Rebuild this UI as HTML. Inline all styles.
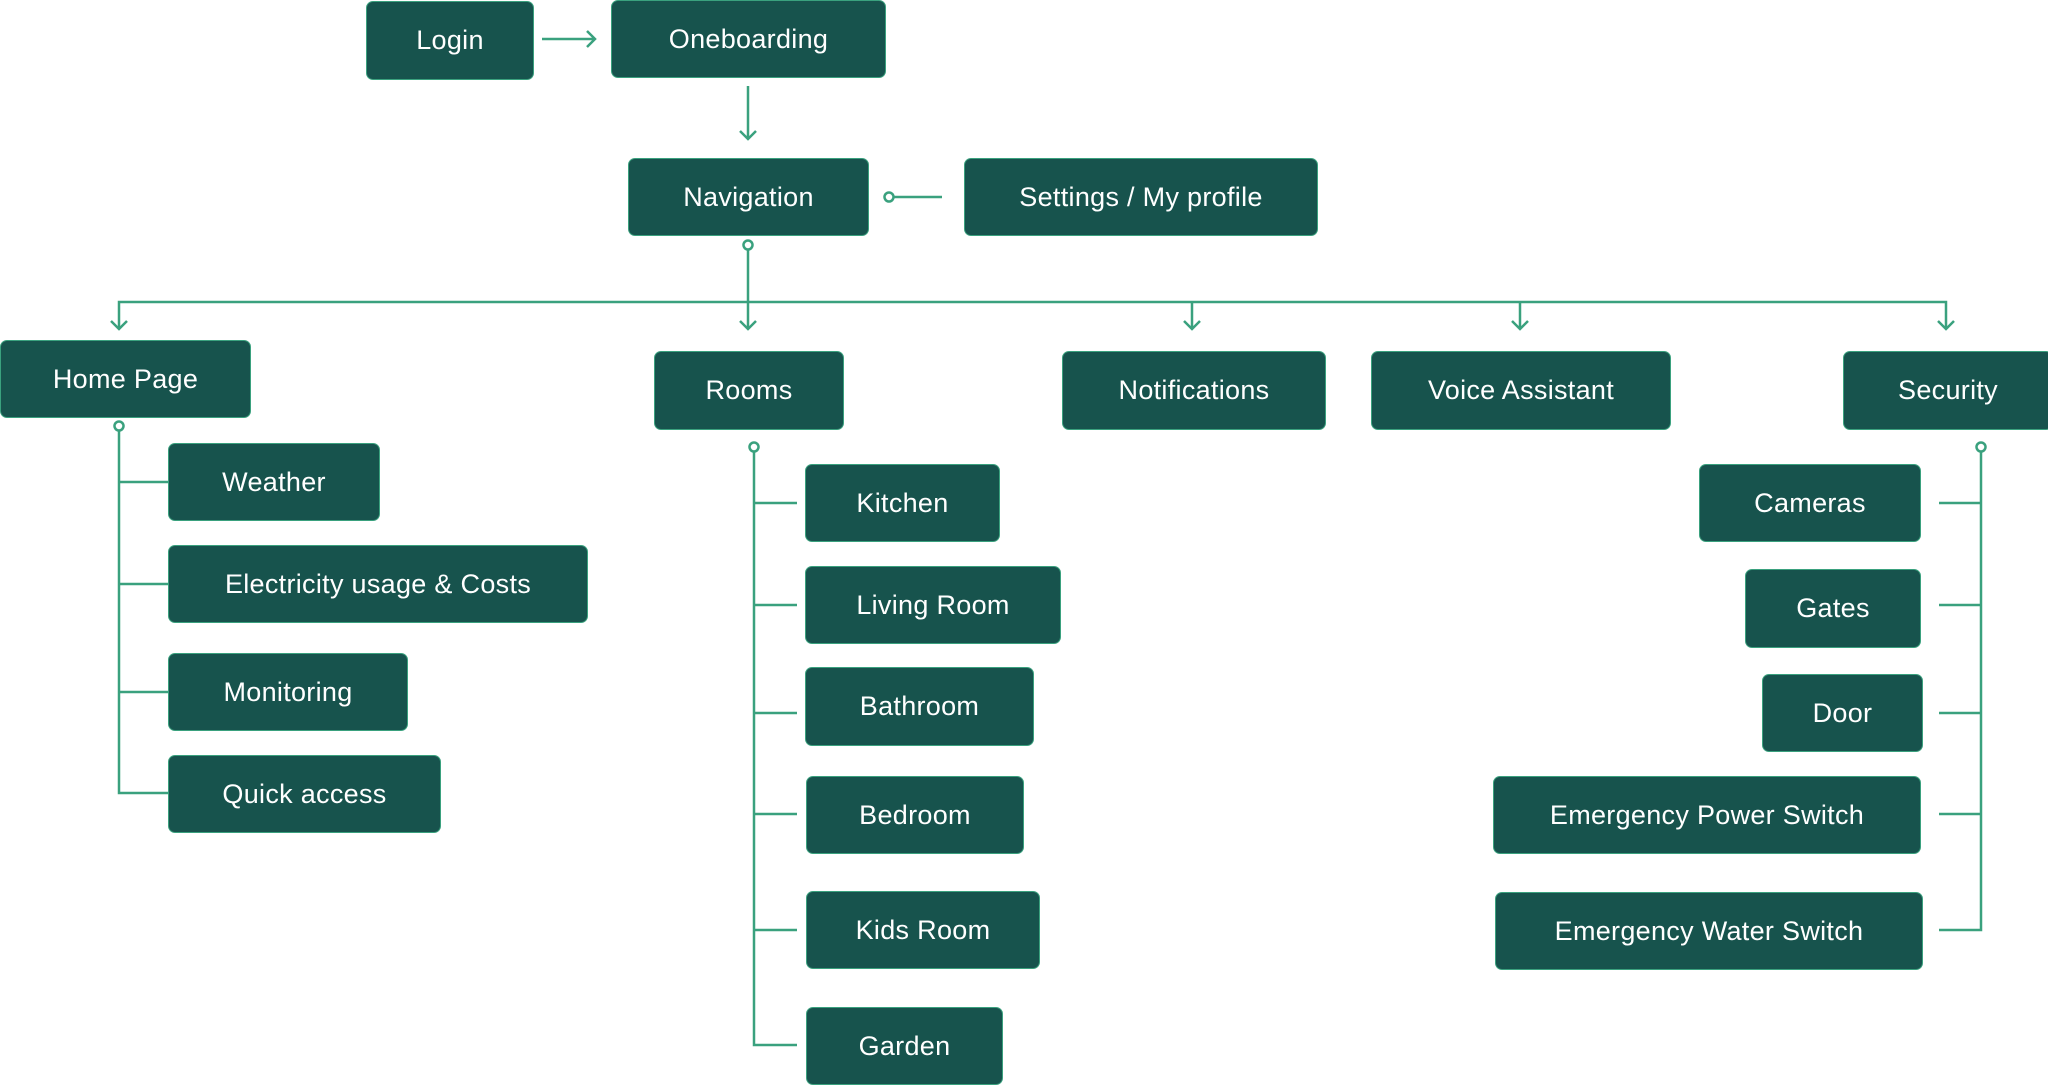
<!DOCTYPE html>
<html><head><meta charset="utf-8"><style>
body{margin:0;width:2048px;height:1085px;background:#fff;position:relative;overflow:hidden;font-family:"Liberation Sans",sans-serif}
.b{position:absolute;background:#17534d;border:1.5px solid #3aa17e;border-radius:7px;box-sizing:border-box;color:#fff;font-size:27px;display:flex;align-items:center;justify-content:center;letter-spacing:0.3px}
svg{position:absolute;left:0;top:0}
</style></head><body>
<svg width="2048" height="1085" fill="none" stroke="#3aa17e" stroke-width="2.5">
<path d="M542 39H595M587 31l8 8-8 8"/>
<path d="M748 86V139M740 131l8 8 8-8"/>
<circle cx="889" cy="197" r="4.5"/><path d="M893 197H942"/>
<circle cx="748" cy="245" r="4.5"/><path d="M748 250V329"/>
<path d="M119 329V302H1946V329"/>
<path d="M111 321l8 8 8-8M740 321l8 8 8-8M1184 321l8 8 8-8M1512 321l8 8 8-8M1938 321l8 8 8-8M1192 302V329M1520 302V329"/>
<circle cx="119" cy="426" r="4.5"/><path d="M119 431V793H168M119 482H168M119 584H168M119 692H168"/>
<circle cx="754" cy="447" r="4.5"/><path d="M754 452V1045H797M754 503H797M754 605H797M754 713H797M754 814H797M754 930H797"/>
<circle cx="1981" cy="447" r="4.5"/><path d="M1981 452V930H1939M1939 503H1981M1939 605H1981M1939 713H1981M1939 814H1981"/>
</svg>
<div class="b" style="left:366px;top:1px;width:168px;height:79px">Login</div>
<div class="b" style="left:611px;top:0;width:275px;height:78px">Oneboarding</div>
<div class="b" style="left:628px;top:158px;width:241px;height:78px">Navigation</div>
<div class="b" style="left:964px;top:158px;width:354px;height:78px">Settings / My profile</div>
<div class="b" style="left:0;top:340px;width:251px;height:78px">Home Page</div>
<div class="b" style="left:654px;top:351px;width:190px;height:79px">Rooms</div>
<div class="b" style="left:1062px;top:351px;width:264px;height:79px">Notifications</div>
<div class="b" style="left:1371px;top:351px;width:300px;height:79px">Voice Assistant</div>
<div class="b" style="left:1843px;top:351px;width:210px;height:79px">Security</div>
<div class="b" style="left:168px;top:443px;width:212px;height:78px">Weather</div>
<div class="b" style="left:168px;top:545px;width:420px;height:78px">Electricity usage &amp; Costs</div>
<div class="b" style="left:168px;top:653px;width:240px;height:78px">Monitoring</div>
<div class="b" style="left:168px;top:755px;width:273px;height:78px">Quick access</div>
<div class="b" style="left:805px;top:464px;width:195px;height:78px">Kitchen</div>
<div class="b" style="left:805px;top:566px;width:256px;height:78px">Living Room</div>
<div class="b" style="left:805px;top:667px;width:229px;height:79px">Bathroom</div>
<div class="b" style="left:806px;top:776px;width:218px;height:78px">Bedroom</div>
<div class="b" style="left:806px;top:891px;width:234px;height:78px">Kids Room</div>
<div class="b" style="left:806px;top:1007px;width:197px;height:78px">Garden</div>
<div class="b" style="left:1699px;top:464px;width:222px;height:78px">Cameras</div>
<div class="b" style="left:1745px;top:569px;width:176px;height:79px">Gates</div>
<div class="b" style="left:1762px;top:674px;width:161px;height:78px">Door</div>
<div class="b" style="left:1493px;top:776px;width:428px;height:78px">Emergency Power Switch</div>
<div class="b" style="left:1495px;top:892px;width:428px;height:78px">Emergency Water Switch</div>
</body></html>
